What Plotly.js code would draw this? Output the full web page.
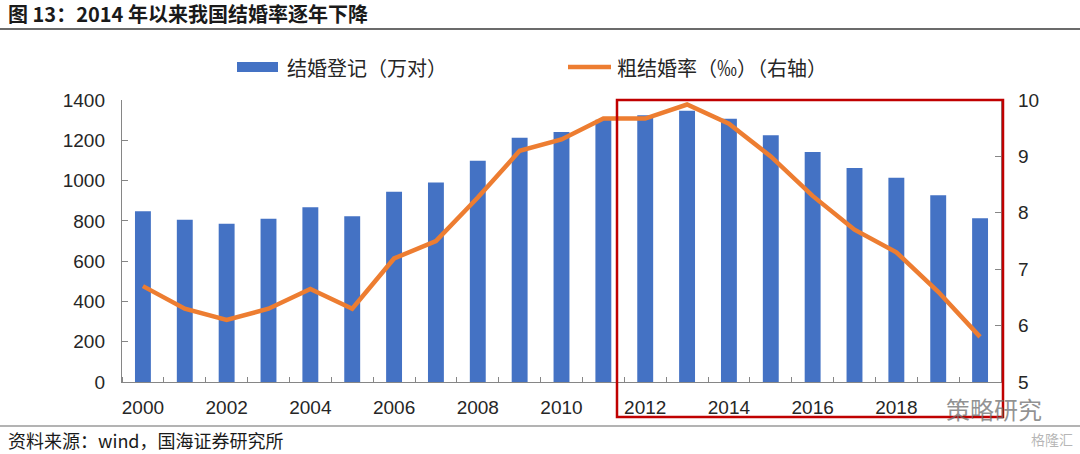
<!DOCTYPE html>
<html>
<head>
<meta charset="utf-8">
<script src="https://cdn.plot.ly/plotly-3.0.1.min.js"></script>
<style>html,body{margin:0;padding:0;background:#fff;}#chart{width:1080px;height:454px;}</style>
</head>
<body>
<div id="chart"></div>
<script>
// Data
const years = [2000, 2001, 2002, 2003, 2004, 2005, 2006, 2007, 2008, 2009, 2010,
               2011, 2012, 2013, 2014, 2015, 2016, 2017, 2018, 2019, 2020];
const marriages = [848, 805, 786, 811, 867, 823, 945, 991, 1098, 1212, 1241,
                   1302, 1324, 1347, 1307, 1225, 1142, 1063, 1014, 927, 813];
const crudeRate = [6.70, 6.30, 6.10, 6.30, 6.65, 6.30, 7.19, 7.50, 8.27, 9.10, 9.30,
                   9.67, 9.67, 9.92, 9.58, 9.00, 8.30, 7.70, 7.30, 6.60, 5.80];
// 2020 label is hidden under the watermark in the reference
const xTickLabels = [2000, 2002, 2004, 2006, 2008, 2010, 2012, 2014, 2016, 2018];
const seriesNames = ['结婚登记（万对）', '粗结婚率（‰）（右轴）'];
const seriesColors = ['#4472C4', '#ED7D31'];

const axisColor = '#868686';
const tickFont = {family: '"Liberation Sans", Arial, sans-serif', size: 19, color: '#262626'};
const cjk = '"Noto Sans CJK SC", "Noto Sans", sans-serif';

// pixel helpers for decorations (plot area: x 122..1001, y 100..382)
const px = v => (v - 122) / 879;
const py = v => (382 - v) / 282;

const traces = [
  {
    type: 'bar', x: years, y: marriages, name: seriesNames[0],
    marker: {color: seriesColors[0]}, yaxis: 'y', hoverinfo: 'x+y'
  },
  {
    type: 'scatter', mode: 'lines', x: years, y: crudeRate, name: seriesNames[1],
    line: {color: seriesColors[1], width: 4.5, shape: 'linear'}, yaxis: 'y2', hoverinfo: 'x+y'
  }
];

const legY = 67;

const layout = {
  width: 1080, height: 454,
  margin: {l: 122, r: 79, t: 100, b: 72},
  paper_bgcolor: '#ffffff', plot_bgcolor: '#ffffff',
  bargap: 0.62,
  showlegend: false,
  title: {
    text: '<b>图 13：2014 年以来我国结婚率逐年下降</b>',
    x: 8 / 1080, xanchor: 'left', xref: 'container',
    y: 1 - 15 / 454, yanchor: 'middle', yref: 'container',
    font: {family: cjk, size: 20, color: '#1a1a1a'}
  },
  xaxis: {
    type: 'linear', range: [1999.5, 2020.5], fixedrange: true,
    tickmode: 'array', tickvals: xTickLabels, ticktext: xTickLabels.map(String),
    ticks: '', tickfont: tickFont, ticklabelstandoff: 8,
    minor: {tickmode: 'linear', tick0: 1999.5, dtick: 1, ticks: 'inside', ticklen: 5, tickcolor: axisColor, showgrid: false},
    showline: true, linecolor: axisColor, linewidth: 1.2,
    showgrid: false, zeroline: false
  },
  yaxis: {
    range: [0, 1400], dtick: 200, tick0: 0, fixedrange: true,
    ticks: 'inside', ticklen: 6, tickcolor: axisColor, tickfont: tickFont,
    ticklabelstandoff: 12,
    showline: true, linecolor: axisColor, linewidth: 1.2,
    showgrid: false, zeroline: false
  },
  yaxis2: {
    overlaying: 'y', side: 'right', range: [5, 10], dtick: 1, tick0: 5, fixedrange: true,
    ticks: 'inside', ticklen: 6, tickcolor: axisColor, tickfont: tickFont,
    ticklabelstandoff: 12,
    showline: true, linecolor: axisColor, linewidth: 1.2,
    showgrid: false, zeroline: false
  },
  shapes: [
    // header rule
    {type: 'line', xref: 'paper', yref: 'paper', x0: px(0), x1: px(1080), y0: py(29), y1: py(29),
     line: {color: '#3a3a3a', width: 1.5}},
    // footer rule
    {type: 'line', xref: 'paper', yref: 'paper', x0: px(0), x1: px(1080), y0: py(426), y1: py(426),
     line: {color: '#9a9a9a', width: 1.5}},
    // red highlight box
    {type: 'rect', xref: 'paper', yref: 'paper', x0: px(617), x1: px(1003), y0: py(417), y1: 1.0,
     line: {color: '#C00000', width: 2.5}, fillcolor: 'rgba(0,0,0,0)'},
    // legend keys
    {type: 'rect', xref: 'paper', yref: 'paper', x0: px(237), x1: px(278), y0: py(legY + 5), y1: py(legY - 5),
     line: {width: 0}, fillcolor: seriesColors[0]},
    {type: 'line', xref: 'paper', yref: 'paper', x0: px(568), x1: px(611), y0: py(legY), y1: py(legY),
     line: {color: seriesColors[1], width: 4.5}}
  ],
  annotations: [
    {text: seriesNames[0], xref: 'paper', yref: 'paper', x: px(285), y: py(legY),
     xanchor: 'left', yanchor: 'middle', showarrow: false,
     font: {family: cjk, size: 20, color: '#262626'}},
    {text: seriesNames[1], xref: 'paper', yref: 'paper', x: px(615), y: py(legY),
     xanchor: 'left', yanchor: 'middle', showarrow: false,
     font: {family: cjk, size: 20, color: '#262626'}},
    {text: '资料来源：wind，国海证券研究所', xref: 'paper', yref: 'paper',
     x: px(6), y: py(440), xanchor: 'left', yanchor: 'middle', showarrow: false,
     font: {family: cjk, size: 18, color: '#1a1a1a'}},
    {text: '策略研究', xref: 'paper', yref: 'paper',
     x: px(994), y: py(408), xanchor: 'center', yanchor: 'middle', showarrow: false,
     font: {family: cjk, size: 24, color: 'rgba(110,110,110,0.75)'}},
    {text: '格隆汇', xref: 'paper', yref: 'paper',
     x: px(1075), y: py(439), xanchor: 'right', yanchor: 'middle', showarrow: false,
     font: {family: cjk, size: 14, color: 'rgba(150,150,150,0.7)'}}
  ]
};

Plotly.newPlot('chart', traces, layout, {displayModeBar: false, staticPlot: true});
</script>
</body>
</html>
